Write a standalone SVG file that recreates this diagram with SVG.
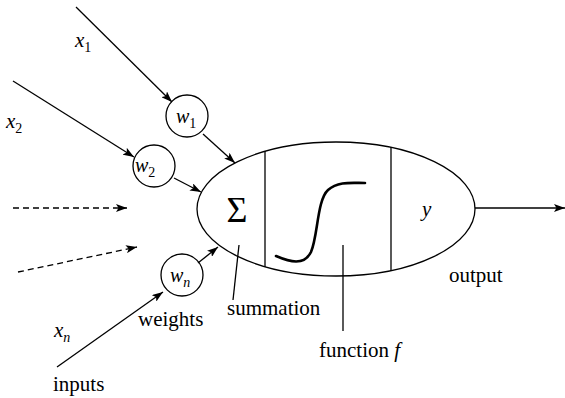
<svg xmlns="http://www.w3.org/2000/svg" width="565" height="398" viewBox="0 0 565 398">
<style>
.ln{stroke:#000;stroke-width:1.3;fill:none}
.dash{stroke-dasharray:6 4}
</style>
<defs>
<marker id="ah" markerUnits="userSpaceOnUse" markerWidth="12" markerHeight="8" refX="11" refY="4" orient="auto">
<path d="M0,0 L11,4 L0,8 L2.5,4 Z" fill="#000"/>
</marker>
</defs>
<rect width="565" height="398" fill="#fff"/>
<g id="connectors">
<line class="ln" x1="76" y1="7" x2="172" y2="102" marker-end="url(#ah)"/>
<line class="ln" x1="13" y1="81" x2="134" y2="157" marker-end="url(#ah)"/>
<line class="ln" x1="57" y1="367" x2="163" y2="292" marker-end="url(#ah)"/>
<line class="ln dash" x1="13" y1="208" x2="127" y2="208" marker-end="url(#ah)"/>
<line class="ln dash" x1="18" y1="272" x2="137" y2="247" marker-end="url(#ah)"/>
<line class="ln" x1="203" y1="134" x2="235" y2="163" marker-end="url(#ah)"/>
<line class="ln" x1="174" y1="178" x2="201" y2="192" marker-end="url(#ah)"/>
<line class="ln" x1="198" y1="263" x2="218" y2="247" marker-end="url(#ah)"/>
<line class="ln" x1="475" y1="208" x2="565" y2="208" marker-end="url(#ah)"/>
<line class="ln" x1="239" y1="245" x2="233" y2="300"/>
<line class="ln" x1="343" y1="245" x2="343" y2="331"/>
</g>
<g id="w1">
<circle class="ln" cx="187" cy="116" r="21"/>
<text style="font-family:'Liberation Serif',serif;font-size:20px;font-style:italic" x="176" y="123">w<tspan style="font-size:14px;font-style:normal" dy="5">1</tspan></text>
</g>
<g id="w2">
<circle class="ln" cx="154" cy="166" r="21"/>
<text style="font-family:'Liberation Serif',serif;font-size:20px;font-style:italic" x="135" y="172">w<tspan style="font-size:14px;font-style:normal" dy="5">2</tspan></text>
</g>
<g id="wn">
<circle class="ln" cx="182" cy="275" r="21"/>
<text style="font-family:'Liberation Serif',serif;font-size:20px;font-style:italic" x="170" y="282">w<tspan style="font-size:14px" dy="5">n</tspan></text>
</g>
<g id="neuron">
<ellipse class="ln" cx="336" cy="209" rx="139" ry="67"/>
<line class="ln" x1="265" y1="151" x2="265" y2="267"/>
<line class="ln" x1="391" y1="147" x2="391" y2="271"/>
<text style="font-family:'Liberation Serif',serif;font-size:36px" x="237" y="222" text-anchor="middle">Σ</text>
<path d="M276,256 C290,262 304,266 311,252 C318,236 317,200 328,190 C338,181 352,183 365,183" fill="none" stroke="#000" stroke-width="2.6" stroke-linecap="round"/>
<text style="font-family:'Liberation Serif',serif;font-size:21px;font-style:italic" x="422" y="216">y</text>
</g>
<g id="labels">
<text style="font-family:'Liberation Serif',serif;font-size:21px;font-style:italic" x="75" y="47">x<tspan style="font-size:14px;font-style:normal" dy="5">1</tspan></text>
<text style="font-family:'Liberation Serif',serif;font-size:21px;font-style:italic" x="6" y="128">x<tspan style="font-size:14px;font-style:normal" dy="5">2</tspan></text>
<text style="font-family:'Liberation Serif',serif;font-size:21px;font-style:italic" x="54" y="337">x<tspan style="font-size:14px" dy="5">n</tspan></text>
<text style="font-family:'Liberation Serif',serif;font-size:21px" x="138" y="326">weights</text>
<text style="font-family:'Liberation Serif',serif;font-size:21px" x="53" y="391">inputs</text>
<text style="font-family:'Liberation Serif',serif;font-size:21px" x="227" y="315">summation</text>
<text style="font-family:'Liberation Serif',serif;font-size:21px" x="319" y="357">function <tspan style="font-style:italic">f</tspan></text>
<text style="font-family:'Liberation Serif',serif;font-size:21px" x="449" y="282">output</text>
</g>
</svg>
